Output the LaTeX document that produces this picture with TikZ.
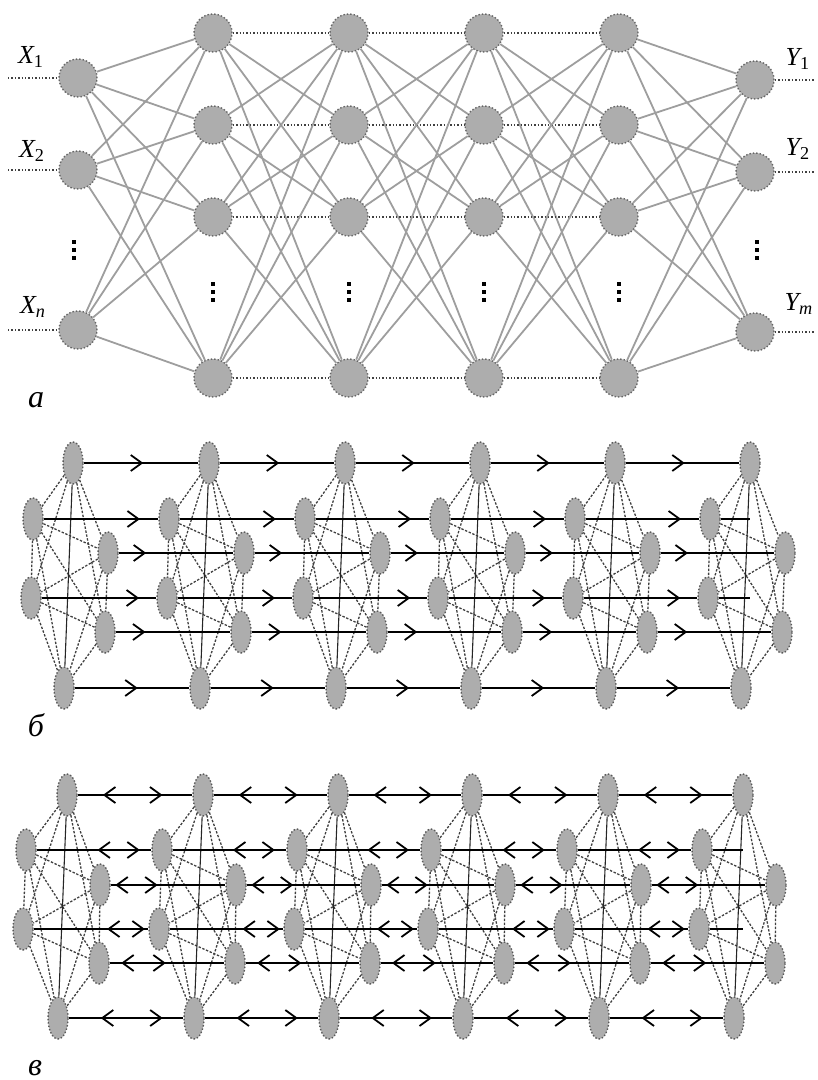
\documentclass[tikz,border=0pt]{standalone}
\usepackage{fontspec}
\setmainfont{Liberation Serif}
\usetikzlibrary{arrows.meta,decorations.markings,shapes.geometric}

\tikzset{barb/.tip={Straight Barb[length=5.5pt,width=8pt,line width=0.9pt]}}

\begin{document}
\begin{tikzpicture}[x=0.5pt,y=-0.5pt,
    neuron/.style={circle,minimum size=19pt,inner sep=0pt,fill=black!32,draw=black!60,densely dotted,line width=0.7pt},
    cell/.style={ellipse,minimum width=10pt,minimum height=21pt,inner sep=0pt,fill=black!32,draw=black!65,densely dotted,line width=0.7pt},
    weight/.style={black!38,line width=0.9pt},
    dotline/.style={black!75,densely dotted,line width=0.7pt},
    link/.style={black!75,dash pattern=on 1.2pt off 0.8pt,line width=0.65pt},
    axis/.style={black!85,line width=0.55pt},
    row/.style={black,line width=1.1pt},
    fwd/.style={postaction={decorate,decoration={markings,mark=at position #1 with {\arrow{barb}}}}},
    twoway/.style 2 args={postaction={decorate,decoration={markings,
        mark=at position #1 with {\arrowreversed{barb}},
        mark=at position #2 with {\arrow{barb}}}}},
    sig/.style={font=\fontsize{13}{13}\selectfont},
    tag/.style={font=\fontsize{16}{16}\selectfont\itshape}]
  \useasboundingbox (0,0) rectangle (818,1080);

  % --- a: multilayer network
  \node[neuron] (x1) at (78,78) {};
  \node[neuron] (x2) at (78,170) {};
  \node[neuron] (x3) at (78,330) {};
  \foreach \l/\hx in {1/213,2/349,3/484,4/619}
    \foreach \r/\hy in {1/33,2/125,3/217,4/378}
      \node[neuron] (h\l\r) at (\hx,\hy) {};
  \node[neuron] (y1) at (755,80) {};
  \node[neuron] (y2) at (755,172) {};
  \node[neuron] (y3) at (755,332) {};
  % dots for the omitted neurons
  \foreach \px/\py in {74/250,757/250,213/292,349/292,484/292,619/292}
    \foreach \k in {-8,0,8}
      \fill (\px-2,\py+\k-2) rectangle ++(4,4);

  \foreach \i in {1,2,3}
    \foreach \j in {1,...,4}
      \draw[weight] (x\i) -- (h1\j);
  \foreach \l [count=\m from 2] in {1,2,3}{
    \foreach \i in {1,...,4}{
      \foreach \j in {1,...,4}{
        \ifnum\i=\j\relax \draw[dotline] (h\l\i) -- (h\m\j);
        \else \draw[weight] (h\l\i) -- (h\m\j); \fi
      }
    }
  }
  \foreach \i in {1,...,4}
    \foreach \j in {1,2,3}
      \draw[weight] (h4\i) -- (y\j);

  \coordinate (xin1) at (8,78);
  \coordinate (xin2) at (8,170);
  \coordinate (xin3) at (8,330);
  \coordinate (yout1) at (815,80);
  \coordinate (yout2) at (815,172);
  \coordinate (yout3) at (815,332);
  \foreach \i in {1,2,3}{
    \draw[dotline] (xin\i) -- (x\i);
    \draw[dotline] (y\i) -- (yout\i);
  }

  \node[sig] (lx1) at (31,57) {\itshape X\textsubscript{\upshape 1}};
  \node[sig] (lx2) at (32,151) {\itshape X\textsubscript{\upshape 2}};
  \node[sig] (lx3) at (33,307) {\itshape X\textsubscript{n}};
  \node[sig] (ly1) at (798,59) {\itshape Y\textsubscript{\upshape 1}};
  \node[sig] (ly2) at (798,149) {\itshape Y\textsubscript{\upshape 2}};
  \node[sig] (ly3) at (799,304) {\itshape Y\textsubscript{m}};
  \node[tag] (ta) at (36,400) {а};

  % --- b: layers linked forward
  \foreach \c/\cx in {1/73,2/209,3/345,4/480,5/615,6/750}
    \foreach \r/\dx/\ry in {1/0/463,2/-40/519,3/35/553,4/-42/598,5/32/632,6/-9/688}
      \node[cell] (b\c\r) at (\cx+\dx,\ry) {};
  \foreach \c in {1,...,6}{
    \foreach \i/\j in {1/2,1/3,1/4,1/5,2/3,2/4,2/5,2/6,3/4,3/5,3/6,4/5,4/6,5/6}
      \draw[link] (b\c\i) -- (b\c\j);
    \draw[axis] (b\c1) -- (b\c6);
  }
  \foreach \r/\p in {1/0.52,2/0.84,3/0.24,4/0.85,5/0.26,6/0.55}
    \foreach \c [count=\n from 2] in {1,...,5}
      \draw[row,fwd=\p] (b\c\r) -- (b\n\r);
  \coordinate (bend2) at (b61 |- b62);
  \coordinate (bend4) at (b61 |- b64);
  \draw[row] (b62) -- (bend2);
  \draw[row] (b64) -- (bend4);
  \node[tag] (tb) at (36,725) {б};

  % --- c: layers linked both ways
  \foreach \c/\cx in {1/67,2/203,3/338,4/472,5/608,6/743}
    \foreach \r/\dx/\ry in {1/0/795,2/-41/850,3/33/885,4/-44/929,5/32/963,6/-9/1018}
      \node[cell] (v\c\r) at (\cx+\dx,\ry) {};
  \foreach \c in {1,...,6}{
    \foreach \i/\j in {1/2,1/3,1/4,1/5,2/3,2/4,2/5,2/6,3/4,3/5,3/6,4/5,4/6,5/6}
      \draw[link] (v\c\i) -- (v\c\j);
    \draw[axis] (v\c1) -- (v\c6);
  }
  \foreach \r/\p/\q in {1/0.22/0.74,2/0.53/0.90,3/0.04/0.41,4/0.64/0.97,5/0.10/0.49,6/0.28/0.82}
    \foreach \c [count=\n from 2] in {1,...,5}
      \draw[row,twoway={\p}{\q}] (v\c\r) -- (v\n\r);
  \coordinate (vend2) at (v61 |- v62);
  \coordinate (vend4) at (v61 |- v64);
  \draw[row] (v62) -- (vend2);
  \draw[row] (v64) -- (vend4);
  \node[tag] (tc) at (35,1068) {в};
\end{tikzpicture}
\end{document}
